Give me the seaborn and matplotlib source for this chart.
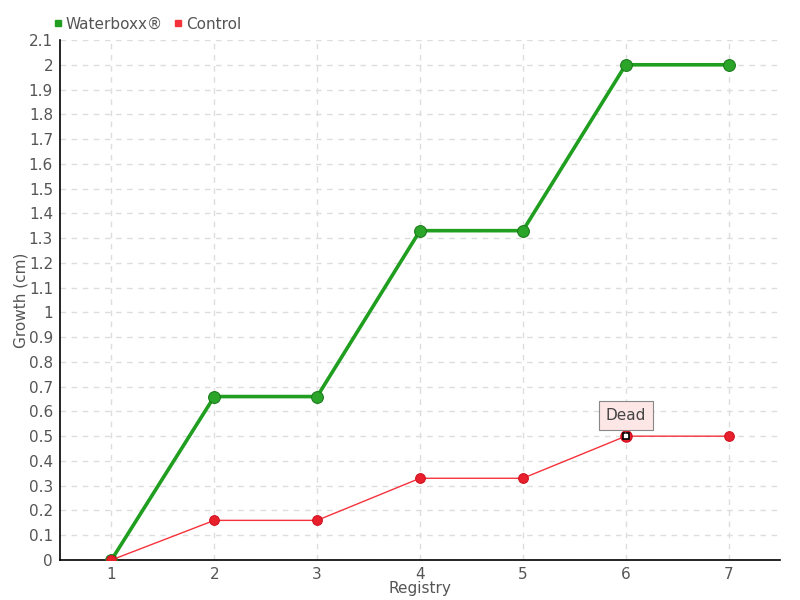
import matplotlib
matplotlib.use("Agg")
import matplotlib.pyplot as plt
from matplotlib import font_manager
import numpy as np
import pandas as pd
import seaborn as sns

registry = [1, 2, 3, 4, 5, 6, 7]
waterboxx = [0, 0.66, 0.66, 1.33, 1.33, 2.0, 2.0]
control = [0, 0.16, 0.16, 0.33, 0.33, 0.5, 0.5]
y_ticks = [round(v * 0.1, 1) for v in range(22)]
y_labels = ["0", "0.1", "0.2", "0.3", "0.4", "0.5", "0.6", "0.7", "0.8", "0.9", "1",
            "1.1", "1.2", "1.3", "1.4", "1.5", "1.6", "1.7", "1.8", "1.9", "2", "2.1"]

df = pd.DataFrame({"Registry": registry * 2,
                   "Growth": waterboxx + control,
                   "series": ["Waterboxx®"] * 7 + ["Control"] * 7})

sns.set_style("white")
installed = {f.name for f in font_manager.fontManager.ttflist}
narrow = "Liberation Sans Narrow" if "Liberation Sans Narrow" in installed else "DejaVu Sans"
plt.rcParams["font.family"] = [narrow, "DejaVu Sans"]
text_color = "#555555"

fig = plt.figure(figsize=(8, 6), dpi=100)
ax = fig.add_axes([0.075, 0.0667, 0.9, 0.8666])

green = "#1f9e1f"
red = "#f5323c"
sns.lineplot(data=df[df.series == "Waterboxx®"], x="Registry", y="Growth", ax=ax,
             color=green, linewidth=2.6, marker="o", markersize=8.5,
             markeredgecolor="#1a7a1a", markerfacecolor="#2aa52a", zorder=3)
sns.lineplot(data=df[df.series == "Control"], x="Registry", y="Growth", ax=ax,
             color=red, linewidth=1, marker="o", markersize=7,
             markeredgecolor="#d01020", markerfacecolor="#e8202c", zorder=4)

# the point where the control plant died
ax.plot(registry[5], control[5], marker="o", markersize=8, markerfacecolor="#e8202c",
        markeredgecolor="#d01020", markeredgewidth=1, zorder=5)
ax.plot(registry[5], control[5], marker="s", markersize=4.5, markerfacecolor="white",
        markeredgecolor="black", markeredgewidth=1.2, zorder=6)
ax.annotate("Dead", xy=(registry[5], control[5]), xytext=(0, 15), textcoords="offset points",
            ha="center", va="center", fontsize=11, color="#444444",
            bbox=dict(boxstyle="square,pad=0.45", fc="#fde6e6", ec="#888888", lw=0.8),
            arrowprops=dict(arrowstyle="-", color="#888888", lw=0.8), zorder=7)

ax.set_xlim(0.5, 7.5)
ax.set_ylim(0, 2.1)
ax.set_xticks(registry)
ax.set_yticks(y_ticks)
ax.set_yticklabels(y_labels)
ax.tick_params(axis="both", labelsize=11, colors=text_color, length=4)
ax.tick_params(axis="y", direction="inout", length=6, pad=2, color="black")
ax.tick_params(axis="x", direction="out", color="black", pad=1)
ax.set_xlabel("Registry", color=text_color, fontsize=11, labelpad=-1)
ax.set_ylabel("Growth (cm)", color=text_color, fontsize=11, labelpad=0)
ax.grid(True, color="#dddddd", linestyle=(0, (4, 4)), linewidth=1)
for side in ["top", "right"]:
    ax.spines[side].set_visible(False)
for side in ["left", "bottom"]:
    ax.spines[side].set_color("black")
    ax.spines[side].set_linewidth(1.2)

handles = [plt.Line2D([], [], marker="s", linestyle="none", color=green, markersize=5),
           plt.Line2D([], [], marker="s", linestyle="none", color=red, markersize=5)]
fig.legend(handles, ["Waterboxx®", "Control"], loc="upper left", bbox_to_anchor=(0.048, 0.995),
           ncol=2, frameon=False, fontsize=11, handletextpad=0.1, columnspacing=0.6,
           handlelength=0.8, labelcolor=text_color)

fig.savefig("out.png", dpi=100)
